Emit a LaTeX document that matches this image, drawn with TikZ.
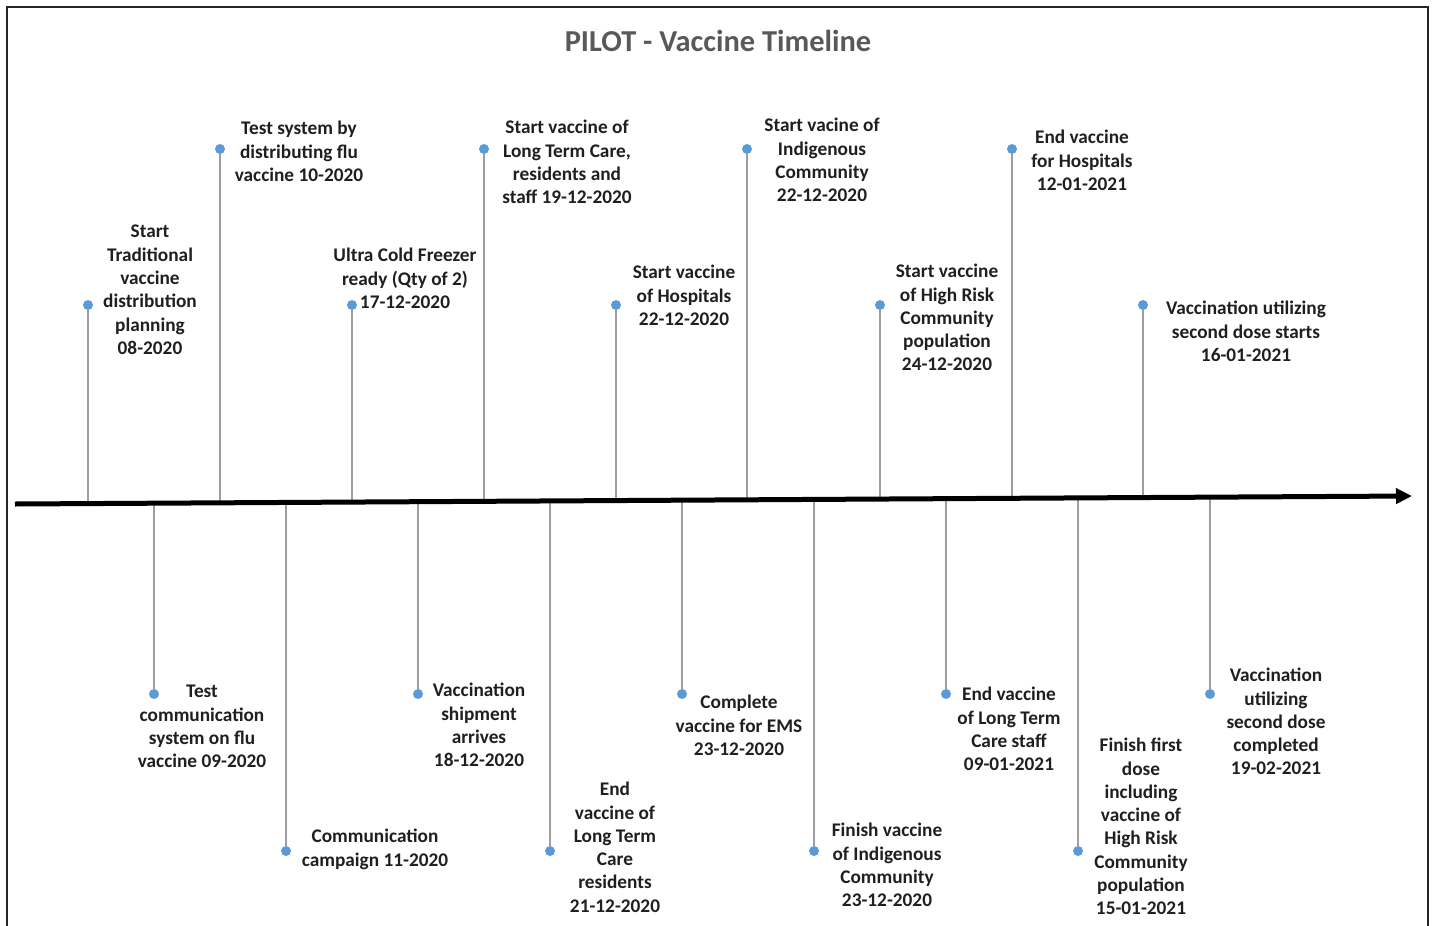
\documentclass[tikz,border=0pt]{standalone}
\usepackage{fontspec}
\setmainfont{Carlito}
\usetikzlibrary{arrows.meta,calc}
\definecolor{dotblue}{HTML}{5B9BD5}
\definecolor{stemgray}{HTML}{6A6A6A}
\definecolor{titlegray}{HTML}{595959}
\definecolor{txt}{HTML}{1F1F1F}
\begin{document}
\begin{tikzpicture}[x=1pt,y=-1pt,
  dot/.style={circle,fill=dotblue,inner sep=0pt,minimum size=10pt},
  stem/.style={draw=stemgray,line width=1.2pt},
  lbl/.style={align=center,anchor=north,inner sep=0pt,font=\fontsize{19.3}{23.3}\selectfont\bfseries,text=txt},
  axisline/.style={line width=5pt,-{Triangle[length=16pt,width=15pt]}},
  frame/.style={line width=2.5pt,draw=black!85}
]
\useasboundingbox (0,0) rectangle (1432,926);
\draw[frame] (7,980) -- (7,7) -- (1428,7) -- (1428,980);
\node[font=\fontsize{30.4}{36}\selectfont\bfseries,text=titlegray] (title) at (718,41) {PILOT - Vaccine Timeline};

\coordinate (A) at (15,504);
\coordinate (B) at (1412,496);

% top dots
\node[dot] (d1) at (88,305) {};
\node[dot] (d2) at (220,149) {};
\node[dot] (d3) at (352,305) {};
\node[dot] (d4) at (484,149) {};
\node[dot] (d5) at (616,305) {};
\node[dot] (d6) at (747,149) {};
\node[dot] (d7) at (880,305) {};
\node[dot] (d8) at (1012,149) {};
\node[dot] (d9) at (1143,305) {};
% bottom dots
\node[dot] (e1) at (154,694) {};
\node[dot] (e2) at (286,851) {};
\node[dot] (e3) at (418,694) {};
\node[dot] (e4) at (550,851) {};
\node[dot] (e5) at (682,694) {};
\node[dot] (e6) at (814,851) {};
\node[dot] (e7) at (946,694) {};
\node[dot] (e8) at (1078,851) {};
\node[dot] (e9) at (1210,694) {};

\foreach \n/\f in {d1/0.0523,d2/0.1467,d3/0.2412,d4/0.3357,d5/0.4302,d6/0.5240,d7/0.6192,d8/0.7137,d9/0.8074}
  \draw[stem] (\n.south) -- ($(A)!\f!(B)$);
\foreach \n/\f in {e1/0.0995,e2/0.1940,e3/0.2885,e4/0.3830,e5/0.4775,e6/0.5719,e7/0.6664,e8/0.7609,e9/0.8554}
  \draw[stem] (\n.north) -- ($(A)!\f!(B)$);

\draw[axisline] (A) -- (B);

% top labels
\node[lbl] (t1) at (150,225) {Start\\Traditional\\vaccine\\distribution\\planning\\08-2020};
\node[lbl] (t2) at (299,121) {Test system by\\distributing flu\\vaccine 10-2020};
\node[lbl] (t3) at (405,248) {Ultra Cold Freezer\\ready (Qty of 2)\\17-12-2020};
\node[lbl] (t4) at (567,120) {Start vaccine of\\Long Term Care,\\residents and\\staff 19-12-2020};
\node[lbl] (t5) at (684,265) {Start vaccine\\of Hospitals\\22-12-2020};
\node[lbl] (t6) at (822,118) {Start vacine of\\Indigenous\\Community\\22-12-2020};
\node[lbl] (t7) at (947,264) {Start vaccine\\of High Risk\\Community\\population\\24-12-2020};
\node[lbl] (t8) at (1082,130) {End vaccine\\for Hospitals\\12-01-2021};
\node[lbl] (t9) at (1246,301) {Vaccination utilizing\\second dose starts\\16-01-2021};
% bottom labels
\node[lbl] (b1) at (202,685) {Test\\communication\\system on flu\\vaccine 09-2020};
\node[lbl] (b2) at (375,829) {Communication\\campaign 11-2020};
\node[lbl] (b3) at (479,683) {Vaccination\\shipment\\arrives\\18-12-2020};
\node[lbl] (b4) at (615,782) {End\\vaccine of\\Long Term\\Care\\residents\\21-12-2020};
\node[lbl] (b5) at (739,695) {Complete\\vaccine for EMS\\23-12-2020};
\node[lbl] (b6) at (887,823) {Finish vaccine\\of Indigenous\\Community\\23-12-2020};
\node[lbl] (b7) at (1009,687) {End vaccine\\of Long Term\\Care staff\\09-01-2021};
\node[lbl] (b8) at (1141,738) {Finish first\\dose\\including\\vaccine of\\High Risk\\Community\\population\\15-01-2021};
\node[lbl] (b9) at (1276,668) {Vaccination\\utilizing\\second dose\\completed\\19-02-2021};
\end{tikzpicture}
\end{document}
